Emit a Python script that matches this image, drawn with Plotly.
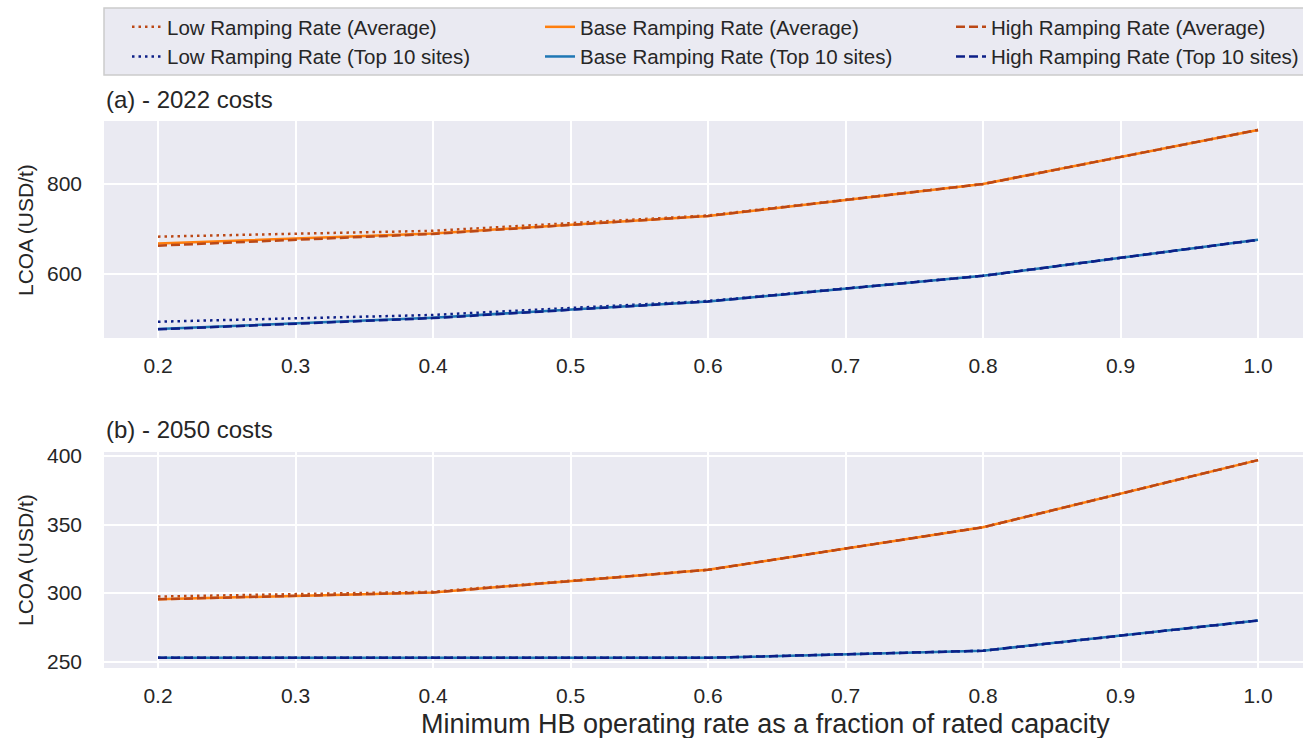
import plotly.graph_objects as go

x = [0.2, 0.4, 0.6, 0.8, 1.0]

# (a) 2022 costs
a_low_avg = [683, 696, 730, 800, 920]
a_base_avg = [668, 690, 729, 800, 920]
a_high_avg = [663, 689, 729, 800, 920]
a_low_top = [494, 509, 540, 596, 676]
a_base_top = [478, 503, 539, 596, 676]
a_high_top = [477, 502, 539, 596, 676]

# (b) 2050 costs
b_low_avg = [297.5, 301, 317, 348, 397]
b_base_avg = [295.5, 300.5, 317, 348, 397]
b_high_avg = [295.5, 300.5, 317, 348, 397]
b_low_top = [252.8, 252.8, 252.8, 258, 280]
b_base_top = [252.8, 252.8, 252.8, 258, 280]
b_high_top = [252.8, 252.8, 252.8, 258, 280]

names = ["Low Ramping Rate (Average)", "Base Ramping Rate (Average)", "High Ramping Rate (Average)",
         "Low Ramping Rate (Top 10 sites)", "Base Ramping Rate (Top 10 sites)", "High Ramping Rate (Top 10 sites)"]

x_ticks = [0.2, 0.3, 0.4, 0.5, 0.6, 0.7, 0.8, 0.9, 1.0]
x_ticktext = ["0.2", "0.3", "0.4", "0.5", "0.6", "0.7", "0.8", "0.9", "1.0"]
ya_ticks = [600, 800]
yb_ticks = [250, 300, 350, 400]

AVG_DARK = "#bb4816"
TOP_DARK = "#0d1f87"
ORANGE = "#ff7f0e"
BLUE = "#1f77b4"
colors = [AVG_DARK, ORANGE, AVG_DARK, TOP_DARK, BLUE, TOP_DARK]
DOT = "2.5px,4px"
DASH = "9px,4px"
dashes = [DOT, "solid", DASH, DOT, "solid", DASH]
legend_of = ["legend", "legend2", "legend3", "legend", "legend2", "legend3"]

W, H = 1303, 738
FONT = "Liberation Sans, Arial, sans-serif"
TXT = "#262626"

fig = go.Figure()

series_a = [a_low_avg, a_base_avg, a_high_avg, a_low_top, a_base_top, a_high_top]
series_b = [b_low_avg, b_base_avg, b_high_avg, b_low_top, b_base_top, b_high_top]

order = [0, 3, 1, 4, 2, 5]
for i in order:
    fig.add_trace(go.Scatter(x=x, y=series_a[i], mode="lines", name=names[i],
                             line=dict(color=colors[i], width=2.5, dash=dashes[i]),
                             legend=legend_of[i], legendgroup=names[i],
                             xaxis="x", yaxis="y"))
for i in order:
    fig.add_trace(go.Scatter(x=x, y=series_b[i], mode="lines", name=names[i],
                             line=dict(color=colors[i], width=2.5, dash=dashes[i]),
                             showlegend=False, legendgroup=names[i], xaxis="x2", yaxis="y2"))

xl = 104 / W
xrange = [0.2 - (158 - 104) / 1375, 0.2 + (W - 158) / 1375]

common_x = dict(range=xrange, tickvals=x_ticks, ticktext=x_ticktext,
                showgrid=True, gridcolor="white", gridwidth=2, zeroline=False, showline=False,
                ticks="", ticklabelstandoff=13, tickfont=dict(size=21, color=TXT, family=FONT))
common_y = dict(showgrid=True, gridcolor="white", gridwidth=2, zeroline=False, showline=False,
                ticks="", ticklabelstandoff=21, tickfont=dict(size=21, color=TXT, family=FONT))

leg_common = dict(orientation="v", yanchor="top", y=1 - 7 / H, xanchor="left",
                  bgcolor="rgba(0,0,0,0)", borderwidth=0, itemwidth=30,
                  tracegroupgap=0, font=dict(size=20.5, color=TXT, family=FONT))

fig.update_layout(
    width=W, height=H,
    margin=dict(l=0, r=0, t=0, b=0, autoexpand=False),
    paper_bgcolor="white", plot_bgcolor="#eaeaf2",
    font=dict(family=FONT, size=20, color=TXT),
    xaxis=dict(domain=[xl, 1], anchor="y", **common_x),
    yaxis=dict(domain=[1 - 338 / H, 1 - 121 / H], anchor="x", range=[457.8, 940],
               tickvals=ya_ticks, **common_y),
    xaxis2=dict(domain=[xl, 1], anchor="y2", **common_x),
    yaxis2=dict(domain=[1 - 668 / H, 1 - 452 / H], anchor="x2", range=[245.4, 402.9],
                tickvals=yb_ticks, **common_y),
    legend=dict(x=127 / W, **leg_common),
    legend2=dict(x=540 / W, **leg_common),
    legend3=dict(x=951 / W, **leg_common),
    shapes=[dict(type="rect", xref="paper", yref="paper", x0=104 / W, x1=1.02,
                 y0=1 - 75 / H, y1=1 - 8 / H, fillcolor="#eaeaf2",
                 line=dict(color="#cccccc", width=1.5), layer="below")],
    annotations=[
        dict(text="(a) - 2022 costs", x=xl, y=1 - 100 / H, xref="paper", yref="paper",
             xanchor="left", yanchor="middle", showarrow=False,
             font=dict(size=24, color=TXT, family=FONT)),
        dict(text="(b) - 2050 costs", x=xl, y=1 - 430 / H, xref="paper", yref="paper",
             xanchor="left", yanchor="middle", showarrow=False,
             font=dict(size=24, color=TXT, family=FONT)),
        dict(text="LCOA (USD/t)", x=25 / W, y=1 - 230 / H, xref="paper", yref="paper",
             xanchor="center", yanchor="middle", textangle=-90, showarrow=False,
             font=dict(size=21, color=TXT, family=FONT)),
        dict(text="LCOA (USD/t)", x=25 / W, y=1 - 560 / H, xref="paper", yref="paper",
             xanchor="center", yanchor="middle", textangle=-90, showarrow=False,
             font=dict(size=21, color=TXT, family=FONT)),
        dict(text="Minimum HB operating rate as a fraction of rated capacity",
             x=765 / W, y=1 - 724 / H, xref="paper", yref="paper",
             xanchor="center", yanchor="middle", showarrow=False,
             font=dict(size=27, color=TXT, family=FONT)),
    ],
)

fig.write_html("out.html")
